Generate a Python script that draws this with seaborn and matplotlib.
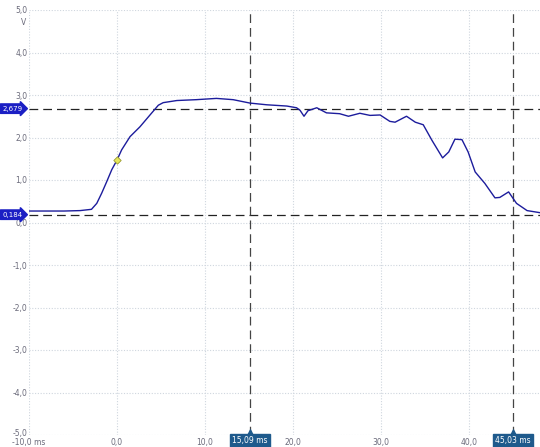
import matplotlib
matplotlib.use("Agg")
import matplotlib.pyplot as plt
import matplotlib.transforms as mtransforms
import seaborn as sns
import pandas as pd

# ---- data ----
time_ms = [-10, -6, -4.2, -2.9, -2.3, -1.74, -1.17, -0.6, 0, 0.53, 1.48, 2.6, 3.75, 4.7,
           5.25, 6.8, 9.0, 11.3, 13.2, 15.1, 17.0, 19.3, 20.4, 20.8, 21.25, 21.7, 22.7,
           23.8, 25.3, 26.3, 27.6, 28.75, 29.9, 31.0, 31.6, 32.9, 33.9, 34.8, 35.8, 37.0,
           37.7, 38.4, 39.2, 39.9, 40.7, 41.8, 42.95, 43.5, 44.5, 45.4, 46.6, 48.1]
volts = [0.27, 0.27, 0.28, 0.31, 0.45, 0.69, 0.96, 1.24, 1.47, 1.71, 2.02, 2.25, 2.53, 2.76,
         2.82, 2.87, 2.89, 2.92, 2.89, 2.81, 2.77, 2.74, 2.70, 2.64, 2.50, 2.63, 2.70,
         2.58, 2.56, 2.50, 2.57, 2.52, 2.53, 2.38, 2.36, 2.50, 2.36, 2.30, 1.93, 1.52,
         1.66, 1.96, 1.95, 1.66, 1.19, 0.92, 0.58, 0.59, 0.72, 0.45, 0.28, 0.23]

x_ticks = [-10, 0, 10, 20, 30, 40]
x_tick_labels = ["-10,0 ms", "0,0", "10,0", "20,0", "30,0", "40,0"]
y_ticks = [5, 4, 3, 2, 1, 0, -1, -2, -3, -4, -5]
y_tick_labels = ["5,0", "4,0", "3,0", "2,0", "1,0", "0,0", "-1,0", "-2,0", "-3,0", "-4,0", "-5,0"]

h_cursors = [2.679, 0.184]
h_cursor_labels = ["2,679", "0,184"]
v_cursors = [15.09, 45.03]
v_cursor_labels = ["15,09 ms", "45,03 ms"]

marker_t = [0]
marker_v = [1.47]

# ---- plot ----
sns.set_style("white")
plt.rcParams['font.family'] = ['DejaVu Sans']

W, H = 540, 447
fig = plt.figure(figsize=(W / 100, H / 100), dpi=100)
left, right, top, bottom = 29, 540, 10, 435
ax = fig.add_axes([left / W, 1 - bottom / H, (right - left) / W, (bottom - top) / H])

ax.set_xlim(-10, -10 + (right - left) / 8.8)
ax.set_ylim(-5, 5)

for s in ax.spines.values():
    s.set_visible(False)

grid_color = "#cfd6de"
for xt in x_ticks:
    ax.axvline(xt, color=grid_color, lw=0.8, ls=(0, (1, 1.5)), zorder=0)
for yt in y_ticks:
    ax.axhline(yt, color=grid_color, lw=0.8, ls=(0, (1, 1.5)), zorder=0)

df = pd.DataFrame({"t": time_ms, "v": volts})
sns.lineplot(data=df, x="t", y="v", ax=ax, color="#1c1c9c", linewidth=1.0, zorder=3)

ax.scatter(marker_t, marker_v, marker="D", s=14, facecolor="#e6e65a",
           edgecolor="#9a9a30", linewidth=0.6, zorder=5)

# cursors
for yc in h_cursors:
    ax.axhline(yc, color="#222222", lw=0.9, ls=(0, (7, 4)), zorder=2)
for xc in v_cursors:
    ax.axvline(xc, color="#444444", lw=0.9, ls=(0, (7, 4)), zorder=2)

ax.set_xticks(x_ticks)
ax.set_xticklabels(x_tick_labels)
ax.set_yticks(y_ticks)
ax.set_yticklabels(y_tick_labels)
ax.tick_params(axis="both", length=0, labelsize=5.5, labelcolor="#6a6a7a")
ax.tick_params(axis="x", pad=2.5)
ax.tick_params(axis="y", pad=1)
ax.set_xlabel("")
ax.set_ylabel("")

# nudge the bottom y label up a little so it does not collide with the x label
for lab in ax.get_yticklabels():
    if lab.get_text() == "-5,0":
        lab.set_transform(lab.get_transform() +
                          mtransforms.ScaledTranslation(0, 0.025, fig.dpi_scale_trans))

ax.text(-0.005, 0.97, "V", transform=ax.transAxes, ha="right", va="center",
        fontsize=5.5, color="#6a6a7a")

for yc, lab in zip(h_cursors, h_cursor_labels):
    ax.annotate(lab, xy=(-0.033, yc), xycoords=("axes fraction", "data"),
                ha="center", va="center", fontsize=5, color="white",
                bbox=dict(boxstyle="rarrow,pad=0.25", fc="#1b1fc4", ec="#1b1fc4"),
                annotation_clip=False, zorder=6)

for xc, lab in zip(v_cursors, v_cursor_labels):
    ax.annotate(lab, xy=(xc, -0.014), xycoords=("data", "axes fraction"),
                ha="center", va="center", fontsize=5.5, color="white",
                bbox=dict(boxstyle="square,pad=0.3", fc="#1e5a8c", ec="#1e5a8c"),
                annotation_clip=False, zorder=6)
    ax.scatter([xc], [0.006], marker="^", s=14, color="#1e5a8c",
               transform=ax.get_xaxis_transform(), clip_on=False, zorder=6)

fig.savefig("out.png", dpi=100)
